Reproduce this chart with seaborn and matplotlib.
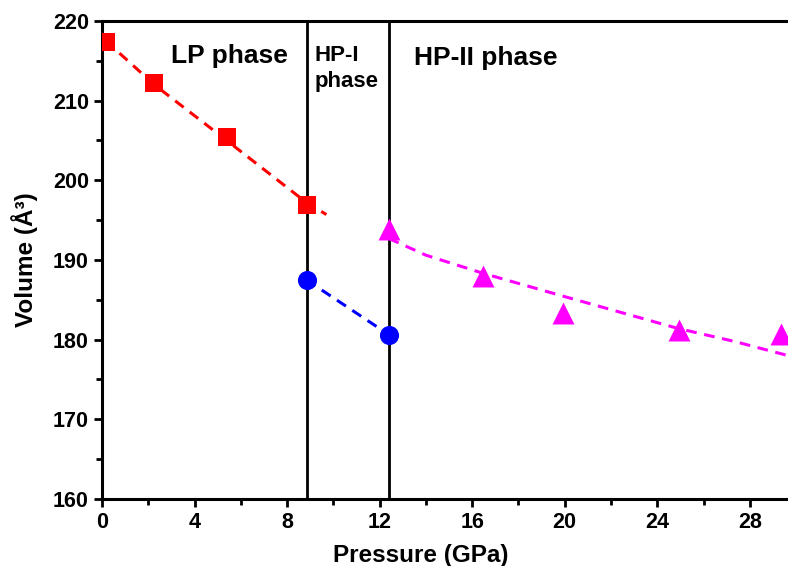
import matplotlib
matplotlib.use("Agg")
import matplotlib.pyplot as plt
import numpy as np
import pandas as pd
import seaborn as sns
from matplotlib.ticker import MultipleLocator

# measured points
lp_p = [0.17, 2.26, 5.39, 8.84]
lp_v = [217.3, 212.2, 205.4, 196.9]
hp1_p = [8.84, 12.41]
hp1_v = [187.5, 180.6]
hp2_p = [12.4, 16.47, 19.93, 24.92, 29.36]
hp2_v = [193.9, 188.0, 183.3, 181.2, 180.7]

# fitted curves
lp_fit_p = [0.17, 2.26, 5.39, 8.84, 9.7]
lp_fit_v = [217.5, 212.0, 205.0, 197.2, 195.7]
hp1_fit_p = [8.84, 12.41]
hp1_fit_v = [187.5, 180.6]
hp2_fit_p = [12.4, 14.0, 16.5, 20.0, 24.9, 27.3, 29.65]
hp2_fit_v = [192.7, 190.6, 188.3, 185.4, 181.4, 179.8, 178.0]

boundaries = [8.86, 12.41]

sns.set_style("ticks", {'axes.edgecolor': 'black', 'xtick.color': 'black',
                        'ytick.color': 'black', 'text.color': 'black',
                        'axes.labelcolor': 'black'})
plt.rcParams['font.family'] = ['Liberation Sans', 'DejaVu Sans']
plt.rcParams['font.weight'] = 'bold'

fig = plt.figure(figsize=(7.88, 5.66), dpi=100)
ax = fig.add_axes([0.1294, 0.1184, 0.8706, 0.8446])

for b in boundaries:
    ax.axvline(b, color='black', lw=2.0, zorder=1)

fits = [(lp_fit_p, lp_fit_v, '#ff0000'),
        (hp1_fit_p, hp1_fit_v, '#0000ff'),
        (hp2_fit_p, hp2_fit_v, '#ff00ff')]
for p, v, c in fits:
    sns.lineplot(x=p, y=v, ax=ax, color=c, lw=2.2, sort=False,
                 linestyle=(0, (3.5, 2.5)), zorder=2)

pts = [(lp_p, lp_v, '#ff0000', 's', 150),
       (hp1_p, hp1_v, '#0000ff', 'o', 190),
       (hp2_p, hp2_v, '#ff00ff', '^', 250)]
for p, v, c, m, s in pts:
    sns.scatterplot(x=p, y=v, ax=ax, color=c, marker=m, s=s,
                    edgecolor=c, linewidth=0, zorder=3)

ax.text(3.0, 215.6, 'LP phase', fontsize=19, fontweight='bold', ha='left', va='center')
ax.text(9.2, 217.0, 'HP-I\nphase', fontsize=16, fontweight='bold', ha='left', va='top',
        linespacing=1.35)
ax.text(13.5, 215.4, 'HP-II phase', fontsize=19, fontweight='bold', ha='left', va='center')

ax.set_xlim(0, 29.65)
ax.set_ylim(160, 220)
ax.xaxis.set_major_locator(MultipleLocator(4))
ax.xaxis.set_minor_locator(MultipleLocator(2))
ax.yaxis.set_major_locator(MultipleLocator(10))
ax.yaxis.set_minor_locator(MultipleLocator(5))
ax.tick_params(which='major', length=6, width=2, labelsize=15.5, direction='out')
ax.tick_params(which='minor', length=4, width=2, direction='out')
for lab in ax.get_xticklabels() + ax.get_yticklabels():
    lab.set_fontweight('bold')

for side in ['left', 'bottom', 'top']:
    ax.spines[side].set_linewidth(2.2)
ax.spines['right'].set_visible(False)

ax.set_xlabel('Pressure (GPa)', fontsize=17.5, fontweight='bold')
ax.set_ylabel('Volume (Å³)', fontsize=17.5, fontweight='bold')
ax.xaxis.set_label_coords(0.465, -0.095)
ax.yaxis.set_label_coords(-0.093, 0.5)

fig.savefig('out.png', dpi=100)
